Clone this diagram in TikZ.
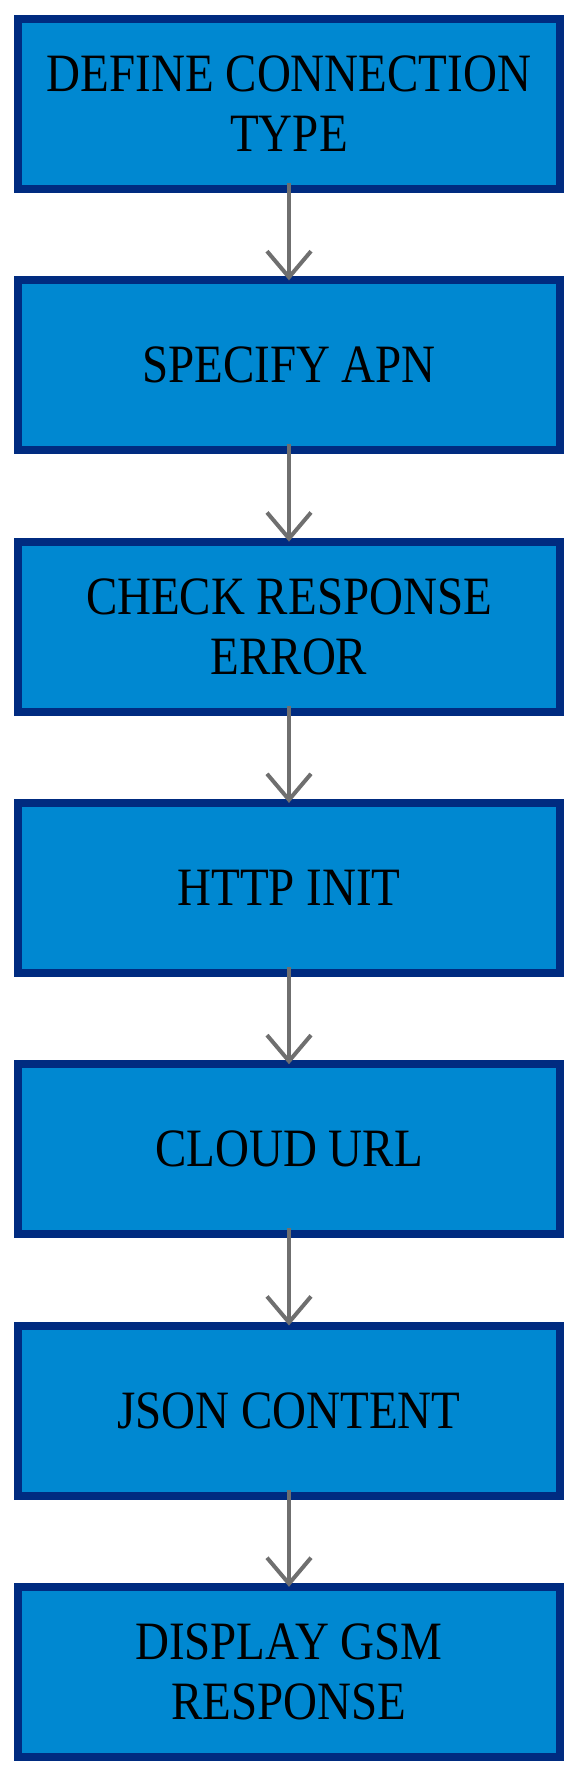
\documentclass[tikz,border=0pt]{standalone}
\usepackage{fontspec}
\setmainfont{Liberation Serif}[FakeStretch=0.87]
\usepackage{tikz}
\usetikzlibrary{arrows.meta,positioning}
\usepackage{xcolor}
\definecolor{cblue}{HTML}{0088D1}
\definecolor{cnavy}{HTML}{002B80}
\definecolor{cgray}{HTML}{6F6F6F}

\tikzset{
  stepbox/.style={draw=cnavy, fill=cblue, line width=8pt,
    minimum width=542pt, minimum height=170pt, inner sep=0pt,
    align=center, text=black, font=\fontsize{54}{60}\selectfont},
  flow/.style={draw=cgray, line width=3.5pt, shorten <=-10pt, shorten >=-4pt,
    -{Straight Barb[length=26pt,width=44pt,line width=4pt]}}
}

\begin{document}
\begin{tikzpicture}[node distance=83.3pt]
    \useasboundingbox (0,0) rectangle (579pt,-1774pt);

    \node[stepbox] (conn) at (289pt,-104pt) {DEFINE CONNECTION\\TYPE};
    \node[stepbox, below=of conn] (apn) {SPECIFY APN};
    \node[stepbox, below=of apn] (check) {CHECK RESPONSE\\ERROR};
    \node[stepbox, below=of check] (http) {HTTP INIT};
    \node[stepbox, below=of http] (url) {CLOUD URL};
    \node[stepbox, below=of url] (json) {JSON CONTENT};
    \node[stepbox, below=of json] (gsm) {DISPLAY GSM\\RESPONSE};

    \foreach \a/\b in {conn/apn, apn/check, check/http, http/url, url/json, json/gsm}
      \draw[flow] (\a.south) -- (\b.north);
  \end{tikzpicture}
\end{document}
